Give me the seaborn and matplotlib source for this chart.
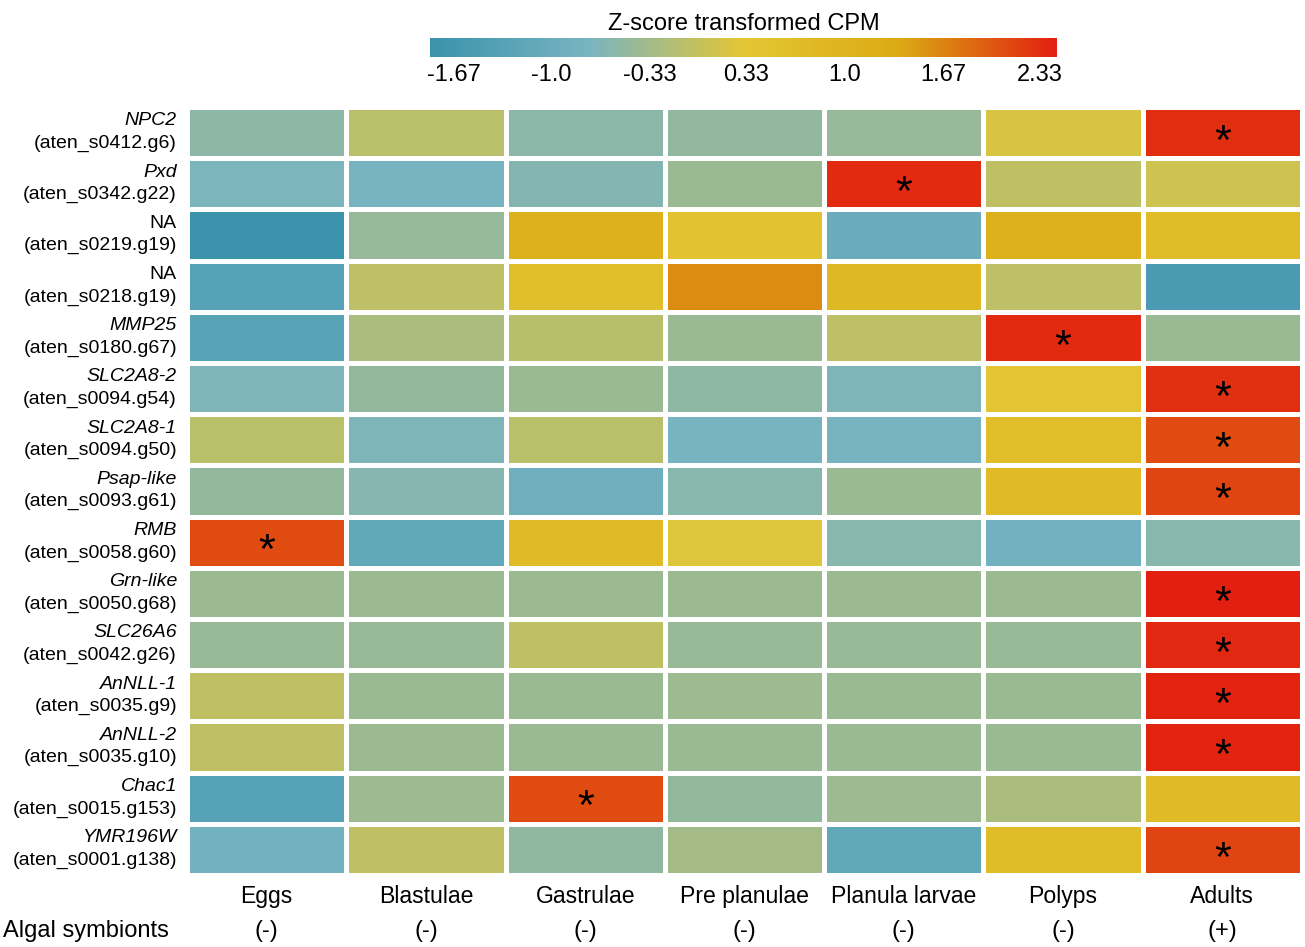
import numpy as np
import pandas as pd
import matplotlib
matplotlib.use("Agg")
import matplotlib.pyplot as plt
import matplotlib.transforms as mtransforms
from matplotlib.colors import LinearSegmentedColormap
import seaborn as sns

# Developmental stages (columns) and symbiont status
stages = ["Eggs", "Blastulae", "Gastrulae", "Pre planulae", "Planula larvae", "Polyps", "Adults"]
symbionts = ["(-)", "(-)", "(-)", "(-)", "(-)", "(-)", "(+)"]

# Genes (rows): annotation name and gene model id
gene_names = ["NPC2", "Pxd", "NA", "NA", "MMP25", "SLC2A8-2", "SLC2A8-1", "Psap-like",
              "RMB", "Grn-like", "SLC26A6", "AnNLL-1", "AnNLL-2", "Chac1", "YMR196W"]
gene_ids = ["aten_s0412.g6", "aten_s0342.g22", "aten_s0219.g19", "aten_s0218.g19",
            "aten_s0180.g67", "aten_s0094.g54", "aten_s0094.g50", "aten_s0093.g61",
            "aten_s0058.g60", "aten_s0050.g68", "aten_s0042.g26", "aten_s0035.g9",
            "aten_s0035.g10", "aten_s0015.g153", "aten_s0001.g138"]

# Row-wise z-scores of CPM
zscores = [
    [-0.55, -0.10, -0.57, -0.50, -0.45, 0.20, 2.32],
    [-0.72, -0.75, -0.64, -0.42, 2.35, -0.05, 0.10],
    [-1.83, -0.45, 1.10, 0.45, -1.00, 1.10, 0.70],
    [-1.35, -0.07, 0.60, 1.60, 0.80, -0.07, -1.55],
    [-1.30, -0.25, -0.12, -0.42, -0.07, 2.35, -0.42],
    [-0.68, -0.48, -0.42, -0.53, -0.68, 0.35, 2.30],
    [-0.10, -0.70, -0.10, -0.75, -0.75, 0.65, 2.10],
    [-0.48, -0.62, -0.88, -0.60, -0.42, 0.75, 2.15],
    [2.10, -1.15, 0.75, 0.25, -0.60, -0.85, -0.60],
    [-0.408, -0.408, -0.408, -0.408, -0.408, -0.408, 2.449],
    [-0.43, -0.43, -0.05, -0.43, -0.43, -0.43, 2.38],
    [-0.05, -0.42, -0.42, -0.38, -0.42, -0.42, 2.40],
    [-0.05, -0.40, -0.42, -0.42, -0.42, -0.42, 2.40],
    [-1.35, -0.38, 2.10, -0.48, -0.38, -0.25, 0.75],
    [-0.85, -0.05, -0.52, -0.32, -1.15, 0.70, 2.15],
]

# Stage with significant up-regulation for each gene (None = no mark)
significant = ["Adults", "Planula larvae", None, None, "Polyps", "Adults", "Adults", "Adults",
               "Eggs", "Adults", "Adults", "Adults", "Adults", "Gastrulae", "Adults"]

cbar_ticks = [-1.67, -1.0, -0.33, 0.33, 1.0, 1.67, 2.33]
cbar_ticklabels = ["-1.67", "-1.0", "-0.33", "0.33", "1.0", "1.67", "2.33"]

# Zissou-style continuous palette
palette = ["#3A93AB", "#78B4C1", "#E3C634", "#DBAA14", "#E21F10"]
cmap = LinearSegmentedColormap.from_list("zissou", palette)

sns.set_theme(style="white")
plt.rcParams["font.family"] = ["Liberation Sans", "DejaVu Sans"]
plt.rcParams["text.color"] = "black"

W, H = 1305, 947
fig = plt.figure(figsize=(W / 100, H / 100), dpi=100)
ax = fig.add_axes([187 / W, 1 - 875 / H, 1115 / W, 768 / H])
cax = fig.add_axes([430 / W, 1 - 57 / H, 627 / W, 19 / H])

row_keys = [f"{n} ({g})" for n, g in zip(gene_names, gene_ids)]
df = pd.DataFrame(zscores, index=row_keys, columns=stages)
stars = np.array([["*" if s == sig else "" for s in stages] for sig in significant])

sns.heatmap(df, ax=ax, cmap=cmap, vmin=df.values.min(), vmax=df.values.max(),
            linewidths=2.2, linecolor="white", annot=stars, fmt="",
            annot_kws={"fontsize": 31, "color": "black"},
            cbar_ax=cax, cbar_kws={"orientation": "horizontal"})

# nudge the asterisks to sit in the visual centre of each cell
for t in ax.texts:
    x, y = t.get_position()
    t.set_position((x, y + 0.2))

# column labels
ax.set_xticklabels(stages, rotation=0, fontsize=16.6, color="black")
ax.tick_params(axis="x", length=0, pad=7)
ax.set_yticks([])
ax.set_xlabel("")
ax.set_ylabel("")

# two-line row labels: italic gene name above the gene model id
ytrans = mtransforms.blended_transform_factory(ax.transAxes, ax.transData)
for i, (name, gid) in enumerate(zip(gene_names, gene_ids)):
    ax.text(-0.009, i + 0.5 - 0.23, name, transform=ytrans, ha="right", va="center",
            fontsize=14, style="normal" if name == "NA" else "italic", color="black")
    ax.text(-0.009, i + 0.5 + 0.21, f"({gid})", transform=ytrans, ha="right", va="center",
            fontsize=14, color="black")

# symbiont status row
xtrans = mtransforms.blended_transform_factory(ax.transData, ax.transAxes)
for j, s in enumerate(symbionts):
    ax.text(j + 0.5, -0.073, s, transform=xtrans, ha="center", va="center",
            fontsize=17, color="black")
fig.text(3 / W, 1 - 931 / H, "Algal symbionts", ha="left", va="center",
         fontsize=17, color="black")

# colour bar
cb = ax.collections[0].colorbar
cb.set_ticks(cbar_ticks)
cb.set_ticklabels(cbar_ticklabels)
cb.outline.set_visible(False)
cax.tick_params(axis="x", direction="in", color="white", length=6, width=1.2,
                labelsize=17, pad=5, labelcolor="black")
cax.set_title("Z-score transformed CPM", fontsize=17, pad=6, color="black")

fig.savefig("out.png", dpi=100, facecolor="white")
